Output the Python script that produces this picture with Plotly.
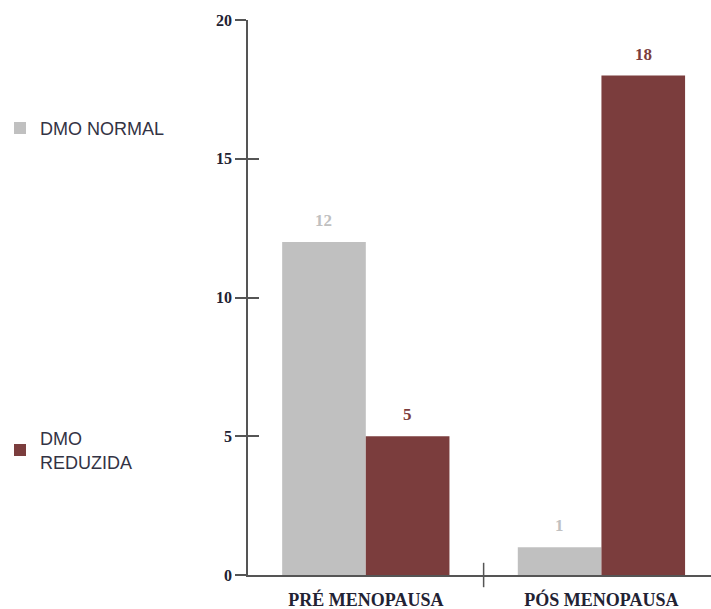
import plotly.graph_objects as go

categories = ["PRÉ MENOPAUSA", "PÓS MENOPAUSA"]
normal_values = [12, 1]
reduced_values = [5, 18]
series_names = ["DMO NORMAL", "DMO<br>REDUZIDA"]
y_ticks = [0, 5, 10, 15, 20]

GRAY = "#C0C0C0"
RED = "#7B3D3D"
AXIS = "#555555"
SERIF = "Liberation Serif, Times New Roman, serif"
SANS = "Liberation Sans, Arial, sans-serif"

fig = go.Figure()
fig.add_trace(go.Bar(x=categories, y=normal_values, name=series_names[0],
                     marker=dict(color=GRAY, line=dict(width=0)),
                     legend="legend"))
fig.add_trace(go.Bar(x=categories, y=reduced_values, name=series_names[1],
                     marker=dict(color=RED, line=dict(width=0)),
                     legend="legend2"))

# value labels above each bar
bargap = 0.29
half = (1 - bargap) / 4
for vals, color, off in [(normal_values, GRAY, -half), (reduced_values, RED, half)]:
    for i, v in enumerate(vals):
        fig.add_annotation(x=i + off, y=v, xref="x", yref="y", text=f"<b>{v}</b>",
                           showarrow=False, yanchor="bottom", yshift=10,
                           font=dict(family=SERIF, size=17, color=color))

# divider between the two categories on the x axis
fig.add_shape(type="line", xref="x", yref="paper", x0=0.5, x1=0.5,
              y0=-0.022, y1=0.022, line=dict(color=AXIS, width=1.5))

fig.update_layout(
    width=711, height=609,
    margin=dict(l=246, r=0, t=20, b=34),
    paper_bgcolor="white", plot_bgcolor="white",
    barmode="group", bargap=bargap, bargroupgap=0,
    xaxis=dict(type="category", range=[-0.5, 1.465], showgrid=False,
               showline=True, linecolor=AXIS, linewidth=1.5,
               ticks="outside", ticklen=8, tickcolor="rgba(0,0,0,0)",
               tickfont=dict(family=SERIF, size=18, color="#222233", weight="bold")),
    yaxis=dict(range=[0, 20], tickvals=y_ticks, showgrid=False, zeroline=False,
               showline=True, linecolor=AXIS, linewidth=1.5,
               ticks="outside", ticklen=11, tickwidth=1.5, tickcolor=AXIS,
               tickfont=dict(family=SERIF, size=16, color="#222233", weight="bold")),
    yaxis2=dict(range=[0, 20], tickvals=y_ticks, overlaying="y", side="left",
                showgrid=False, zeroline=False, showline=False,
                ticks="inside", ticklen=11, tickwidth=1.5, tickcolor=AXIS,
                showticklabels=False),
    legend=dict(x=-0.537, y=0.805, xanchor="left", yanchor="middle",
                font=dict(family=SANS, size=18, color="#333344"),
                bgcolor="rgba(0,0,0,0)"),
    legend2=dict(x=-0.537, y=0.225, xanchor="left", yanchor="middle",
                 font=dict(family=SANS, size=18, color="#333344"),
                 bgcolor="rgba(0,0,0,0)"),
)
# invisible trace so the inside-tick axis is drawn
fig.add_trace(go.Scatter(x=categories, y=[0, 0], yaxis="y2", mode="markers",
                         marker=dict(opacity=0), showlegend=False, hoverinfo="skip"))

fig.write_html("out.html")
